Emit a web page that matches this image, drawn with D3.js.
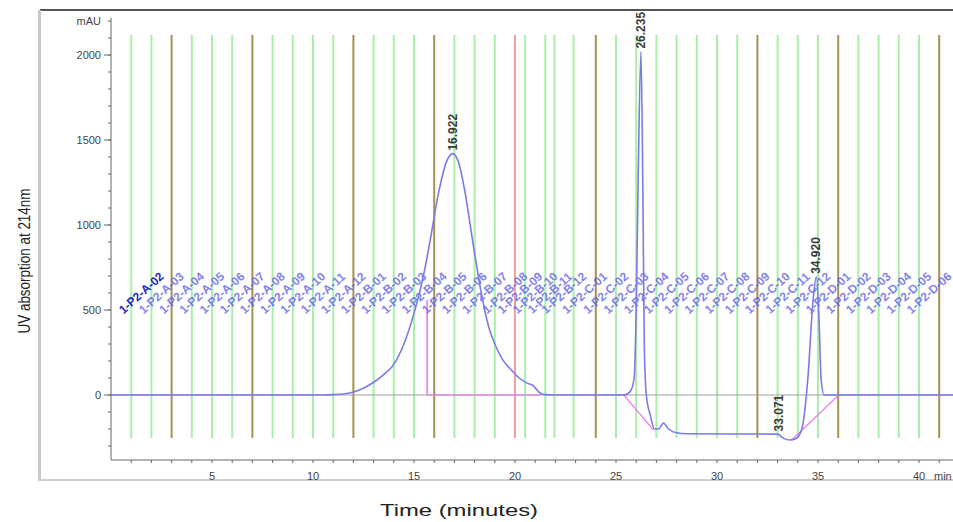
<!DOCTYPE html>
<html>
<head>
<meta charset="utf-8">
<script src="https://cdn.jsdelivr.net/npm/d3@7"></script>
<style>
  body { margin: 0; background: #fff; }
  svg { display: block; font-family: "Liberation Sans", Arial, sans-serif; }
</style>
</head>
<body>
<svg id="chart" width="953" height="522"></svg>
<script>
// UV trace, time in minutes / absorbance in mAU
const traceTime  = [0, 10.5, 11, 11.5, 12, 12.5, 13, 13.5, 14, 14.5, 15, 15.5, 15.8, 16.2, 16.6, 16.922, 17.2, 17.5, 17.9, 18.3, 18.7, 19.0, 19.4, 19.8, 20.2, 20.6, 20.9, 21.2, 21.5, 22,
                    25.4, 25.7, 25.9, 26.0, 26.1, 26.235, 26.33, 26.4, 26.5, 26.7, 26.9, 27.1, 27.35, 27.6, 28.0, 28.5, 33.0, 33.3, 33.6, 33.9, 34.2, 34.5, 34.75, 34.92, 35.05, 35.15, 35.3, 42];
const traceValue = [0, 0, 2, 6, 18, 40, 75, 120, 180, 300, 480, 720, 910, 1180, 1370, 1420, 1370, 1210, 910, 620, 400, 300, 205, 150, 100, 70, 55, 15, 2, 0,
                    0, 20, 100, 500, 1300, 2020, 1200, 300, 0, -120, -200, -200, -165, -200, -222, -228, -230, -255, -265, -258, -200, 100, 550, 695, 450, 100, 0, 0];

// fraction collector marks (minutes)
const fractionBounds = [1, 2, 3, 4, 5, 6, 7, 8, 9, 10, 11, 12, 13, 14, 15, 16, 17, 18, 19, 20, 20.5, 21.5, 21.95, 22.9,
                        24, 25, 26, 27, 28, 29, 30, 31, 32, 33, 34, 35, 36, 37, 38, 39, 40, 41];
const brownBounds = [3, 7, 12, 16, 24, 32, 36, 41];
const redBounds = [20];
const fractionLabels = ["1-P2-A-02", "1-P2-A-03", "1-P2-A-04", "1-P2-A-05", "1-P2-A-06", "1-P2-A-07", "1-P2-A-08", "1-P2-A-09",
  "1-P2-A-10", "1-P2-A-11", "1-P2-A-12", "1-P2-B-01", "1-P2-B-02", "1-P2-B-03", "1-P2-B-04", "1-P2-B-05", "1-P2-B-06",
  "1-P2-B-07", "1-P2-B-08", "1-P2-B-09", "1-P2-B-10", "1-P2-B-11", "1-P2-B-12", "1-P2-C-01", "1-P2-C-02", "1-P2-C-03",
  "1-P2-C-04", "1-P2-C-05", "1-P2-C-06", "1-P2-C-07", "1-P2-C-08", "1-P2-C-09", "1-P2-C-10", "1-P2-C-11", "1-P2-C-12",
  "1-P2-D-01", "1-P2-D-02", "1-P2-D-03", "1-P2-D-04", "1-P2-D-05", "1-P2-D-06"];

// peak retention times
const peakTimes  = [16.922, 26.235, 33.071, 34.920];
const peakValues = [1420, 2020, -232, 695];
const peakLabels = ["16.922", "26.235", "33.071", "34.920"];

const xTicks = [5, 10, 15, 20, 25, 30, 35, 40];
const yTicks = [0, 500, 1000, 1500, 2000];

const svg = d3.select("#chart");

// scales
const x = d3.scaleLinear().domain([0, 40]).range([111, 919]);
const y = d3.scaleLinear().domain([0, 2000]).range([395, 55]);
const plotRight = 953, axisY = 460, lineTop = 35, lineBottom = 438;

// outer frame
svg.append("line").attr("x1", 40).attr("x2", 953).attr("y1", 10).attr("y2", 10)
  .attr("stroke", "#555").attr("stroke-width", 2);
svg.append("line").attr("x1", 39.5).attr("x2", 39.5).attr("y1", 10).attr("y2", 480)
  .attr("stroke", "#c8c8c8").attr("stroke-width", 3);
svg.append("line").attr("x1", 38).attr("x2", 953).attr("y1", 480).attr("y2", 480)
  .attr("stroke", "#d0d0d0").attr("stroke-width", 2);

// fraction lines
const lineColor = d => brownBounds.includes(d) ? "#a89050" : (redBounds.includes(d) ? "#f4a0a0" : "#a8f0a8");
svg.append("g").selectAll("line").data(fractionBounds).join("line")
  .attr("x1", d => x(d)).attr("x2", d => x(d))
  .attr("y1", lineTop).attr("y2", lineBottom)
  .attr("stroke", lineColor).attr("stroke-width", 2);

// zero line
svg.append("line").attr("x1", x(0)).attr("x2", plotRight).attr("y1", y(0)).attr("y2", y(0))
  .attr("stroke", "#a0a0a0").attr("stroke-width", 1);

// integration baselines
const pink = "#f070f0";
svg.append("line").attr("x1", x(15.65)).attr("x2", x(15.65)).attr("y1", y(560)).attr("y2", y(0))
  .attr("stroke", pink).attr("stroke-width", 1.5);
svg.append("line").attr("x1", x(15.65)).attr("x2", x(21.3)).attr("y1", y(0)).attr("y2", y(0))
  .attr("stroke", pink).attr("stroke-width", 1.2);
svg.append("line").attr("x1", x(25.35)).attr("x2", x(26.85)).attr("y1", y(5)).attr("y2", y(-205))
  .attr("stroke", pink).attr("stroke-width", 1.2);
svg.append("line").attr("x1", x(33.7)).attr("x2", x(35.95)).attr("y1", y(-265)).attr("y2", y(-8))
  .attr("stroke", pink).attr("stroke-width", 1.2);

// fraction labels
const mids = fractionLabels.map((l, i) => (fractionBounds[i] + fractionBounds[i + 1]) / 2);
svg.append("g").selectAll("text").data(fractionLabels).join("text")
  .attr("transform", (d, i) => `translate(${x(mids[i])},293) rotate(-42)`)
  .attr("text-anchor", "middle").attr("dominant-baseline", "central")
  .attr("font-size", 12).attr("font-weight", "bold")
  .attr("fill", (d, i) => i === 0 ? "#2424c0" : "#5858e6")
  .attr("opacity", (d, i) => i === 0 ? 1 : 0.75)
  .text(d => d);

// trace
const pts = traceTime.map((t, i) => [t, traceValue[i]]);
const line = d3.line().x(d => x(d[0])).y(d => y(d[1])).curve(d3.curveMonotoneX);
svg.append("path").datum(pts)
  .attr("fill", "none").attr("stroke", "#7a7ae8").attr("stroke-width", 1.6)
  .attr("d", line);

// peak labels
svg.append("g").selectAll("text").data(peakLabels).join("text")
  .attr("transform", (d, i) => `translate(${x(peakTimes[i]) + 4},${y(peakValues[i]) - 3}) rotate(-90)`)
  .attr("font-size", 12).attr("font-weight", "bold").attr("fill", "#3a3a3a")
  .text(d => d);

// axes
const gx = svg.append("g").attr("transform", `translate(0,${axisY})`);
gx.append("line").attr("x1", x(0)).attr("x2", plotRight).attr("stroke", "#666");
gx.selectAll(".minor").data(d3.range(1, 42)).join("line")
  .attr("x1", d => x(d)).attr("x2", d => x(d)).attr("y1", 0).attr("y2", 3).attr("stroke", "#666");
gx.selectAll(".lab").data(xTicks).join("text")
  .attr("x", d => x(d)).attr("y", 20).attr("text-anchor", "middle")
  .attr("font-size", 11).attr("fill", "#444").text(d => d);
gx.append("text").attr("x", 934).attr("y", 20).attr("font-size", 11).attr("fill", "#444").text("min");

const gy = svg.append("g").attr("transform", `translate(${x(0)},0)`);
gy.append("line").attr("y1", 18).attr("y2", axisY).attr("stroke", "#666");
gy.selectAll(".minor").data(d3.range(-300, 2201, 100)).join("line")
  .attr("x1", -3).attr("x2", 0).attr("y1", d => y(d)).attr("y2", d => y(d)).attr("stroke", "#666");
gy.selectAll(".major").data(yTicks).join("line")
  .attr("x1", -7).attr("x2", 0).attr("y1", d => y(d)).attr("y2", d => y(d)).attr("stroke", "#666");
gy.selectAll(".lab").data(yTicks).join("text")
  .attr("x", -10).attr("y", d => y(d) + 4).attr("text-anchor", "end")
  .attr("font-size", 11).attr("fill", "#444").text(d => d);
gy.append("text").attr("x", -10).attr("y", 25).attr("text-anchor", "end")
  .attr("font-size", 11).attr("fill", "#444").text("mAU");

// axis titles
svg.append("text").attr("transform", "translate(30,261) rotate(-90)")
  .attr("text-anchor", "middle").attr("font-size", 17).attr("fill", "#222")
  .attr("textLength", 145).attr("lengthAdjust", "spacingAndGlyphs")
  .text("UV absorption at 214nm");
svg.append("text").attr("x", 459).attr("y", 516).attr("text-anchor", "middle")
  .attr("font-size", 17).attr("fill", "#222")
  .attr("textLength", 158).attr("lengthAdjust", "spacingAndGlyphs")
  .text("Time (minutes)");
</script>
</body>
</html>
